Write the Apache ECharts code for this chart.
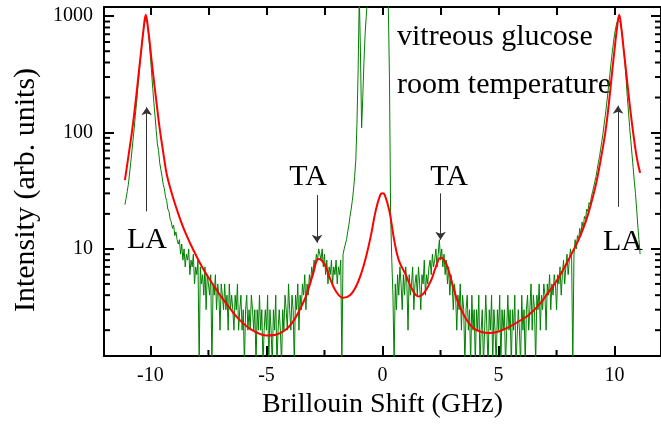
<!DOCTYPE html>
<html lang="en">
<head>
<meta charset="UTF-8">
<title>Brillouin spectrum - vitreous glucose</title>
<script src="https://cdn.jsdelivr.net/npm/echarts@6/dist/echarts.min.js"></script>
<style>
  html, body { margin: 0; padding: 0; background: #fff; }
  #main { width: 661px; height: 435px; }
</style>
</head>
<body>
<div id="main"></div>
<script>
// measured spectrum: one value per channel, channels every 0.05 GHz from -11.1 GHz
var dataStart = -11.1;
var dataStep = 0.05;
var measured = [
  24,27,31,36,44,55,68,86,108,140,
  178,235,300,390,500,620,760,880,940,900,
  760,600,450,330,240,180,138,104,80,70,
  55,48,42,36,33,28,26,22,21,18,
  17,15,16,13,14,12,11,12,9,11,
  8,10,7,9,8,10,6,8,7,9,
  5,7,6,8,1,7,5,6,4,7,
  3,6,5,4,6,1,5,4,6,3,
  5,4,2,5,4,3,5,3,4,2,
  5,3,4,3,2,4,3,5,2,3,
  4,2,3,1,3,4,2,3,2,4,
  3,2,3,1,3,2,4,2,3,1,
  2,3,2,4,1,3,2,1,3,2,
  4,1,2,3,2,1,3,2,4,3,
  2,5,3,2,4,3,1,4,3,5,
  2,4,3,5,4,6,3,5,4,6,
  5,7,6,8,7,9,8,10,9,8,
  10,7,9,6,8,5,7,6,8,5,
  7,6,8,5,7,6,8,1,9,10,
  11,12,14,16,19,22,26,32,42,58,
  120,350,1500,500,110,200,400,700,1000,1400,
  5000,5000,5000,5000,5000,5000,5000,5000,5000,5000,
  5000,5000,5000,5000,5000,5000,5000,5000,300,20,
  8,4,1,5,3,6,4,7,5,3,
  6,4,7,5,2,6,4,5,7,3,
  5,6,4,7,5,3,6,5,8,4,
  6,5,7,8,6,9,7,8,10,7,
  9,12,8,10,7,9,6,8,5,7,
  4,6,5,3,5,4,2,4,3,5,
  2,4,3,1,3,4,2,3,1,4,
  2,3,1,3,2,4,1,2,3,1,
  2,4,2,1,3,2,4,1,3,2,
  1,3,2,4,1,3,2,3,1,2,
  4,2,3,1,3,2,4,1,1,3,
  2,1,4,2,3,1,3,4,2,3,
  5,2,4,3,1,4,3,5,2,4,
  3,5,4,2,5,4,6,3,5,4,
  6,5,3,6,5,7,4,6,8,5,
  7,9,6,8,10,8,1,9,12,10,
  13,12,15,13,17,15,19,18,22,21,
  25,24,28,31,34,38,42,48,55,62,
  72,84,98,118,140,170,210,260,320,400,
  490,590,700,800,880,930,940,880,780,640,
  500,380,280,200,150,110,85,65,50,38,
  30,22,16,12,9
];

// fitted curve
var fitX = [-11.1,-10.95,-10.8,-10.65,-10.5,-10.4,-10.3,-10.2,-10.1,-10.0,-9.9,-9.75,-9.6,-9.45,-9.3,-9.1,-8.9,-8.6,-8.3,-7.9,
  -7.6,-7.2,-6.9,-6.5,-6.2,-5.8,-5.4,-5.0,-4.6,-4.2,-3.9,-3.6,-3.3,-3.0,-2.75,-2.5,-2.25,-2.0,-1.7,-1.4,
  -1.15,-0.9,-0.7,-0.5,-0.3,-0.1,0,0.1,0.3,0.5,0.7,1.0,1.3,1.55,1.8,2.1,2.3,2.5,2.7,2.9,
  3.1,3.3,3.6,3.9,4.2,4.6,5.0,5.4,5.9,6.3,6.8,7.1,7.5,7.85,8.2,8.45,8.75,9.0,9.2,9.4,
  9.6,9.75,9.9,10.0,10.1,10.2,10.3,10.4,10.5,10.65,10.8,10.95,11.1];
var fitY = [39,62,100,175,330,500,760,1030,780,520,340,190,108,68,44,31,23,15.5,11.3,7.8,
  6.1,4.6,3.75,2.95,2.5,2.12,1.9,1.8,1.83,2.0,2.3,2.9,3.9,6.0,8.2,7.4,5.5,4.3,3.8,4.0,
  4.7,6.3,8.7,13,21,29,30,29,21,12,8,6.0,4.4,3.9,4.2,5.4,7.0,8.4,7.8,6.0,
  4.3,3.3,2.5,2.1,1.95,1.89,1.95,2.1,2.4,2.7,3.4,4.1,5.3,7.0,9.5,12,17,25,36,58,
  100,175,340,520,780,1030,760,500,330,175,100,62,45];

// axis ticks
var xMajor = [-10, -5, 0, 5, 10];
var xMinor = [-7.5, -2.5, 2.5, 7.5];
var xTop = [-10, -7.5, -5, -2.5, 0, 2.5, 5, 7.5, 10];
var yMajor = [10, 100, 1000];
var yMinor = [2,3,4,5,6,7,8,9,20,30,40,50,60,70,80,90,200,300,400,500,600,700,800,900];

// arrows: position (GHz), tail and head (intensity)
var arrows = [
  { x: -10.16, from: 21, to: 165 },
  { x: -2.82, from: 29, to: 11.3 },
  { x: 2.5, from: 30, to: 12 },
  { x: 10.15, from: 23, to: 170 }
];

var serif = '"Liberation Serif", "Times New Roman", serif';

var measuredData = measured.map(function (v, i) {
  return [+(dataStart + i * dataStep).toFixed(2), v];
});
var fitData = fitX.map(function (x, i) { return [x, fitY[i]]; });

var myChart = echarts.init(document.getElementById('main'));

var frameLine = { show: true, onZero: false, lineStyle: { color: '#000', width: 2 } };

function annot(text, x, y, align) {
  return { type: 'text', x: x, y: y,
    style: { text: text, fill: '#000', font: '30px ' + serif, align: align, verticalAlign: 'middle' } };
}

var option = {
  animation: false,
  grid: { left: 104, right: -2, top: 7, bottom: 79, containLabel: false },
  xAxis: [
    {
      type: 'value', min: -12, max: 12, position: 'bottom',
      axisLine: frameLine,
      axisTick: { inside: true, length: 10, customValues: xMajor, lineStyle: { color: '#000', width: 2 } },
      axisLabel: { customValues: xMajor, color: '#000', fontFamily: serif, fontSize: 20, margin: 10 },
      splitLine: { show: false },
      name: 'Brillouin Shift (GHz)', nameLocation: 'middle', nameGap: 34,
      nameTextStyle: { color: '#000', fontFamily: serif, fontSize: 28 }
    },
    {
      type: 'value', min: -12, max: 12, position: 'top',
      axisLine: frameLine,
      axisTick: { inside: true, length: 8, customValues: xTop, lineStyle: { color: '#000', width: 2 } },
      axisLabel: { show: false },
      splitLine: { show: false }
    }
  ],
  yAxis: [
    {
      type: 'log', min: 1.2, max: 1200, position: 'left',
      axisLine: frameLine,
      axisTick: { inside: true, length: 10, customValues: yMajor, lineStyle: { color: '#000', width: 2 } },
      axisLabel: {
        customValues: yMajor, color: '#000', fontFamily: serif, fontSize: 20, margin: 11,
        formatter: function (v) { return String(v); }
      },
      splitLine: { show: false }
    },
    {
      type: 'log', min: 1.2, max: 1200, position: 'right',
      axisLine: frameLine,
      axisTick: { inside: true, length: 10, customValues: yMajor, lineStyle: { color: '#000', width: 2 } },
      axisLabel: { show: false },
      splitLine: { show: false }
    }
  ],
  graphic: [
    { type: 'text', x: 26, y: 190, rotation: Math.PI / 2,
      style: { text: 'Intensity (arb. units)', fill: '#000', font: '30px ' + serif, align: 'center', verticalAlign: 'middle' } },
    annot('vitreous glucose', 397, 37, 'left'),
    annot('room temperature', 397, 85, 'left'),
    annot('TA', 308, 177, 'center'),
    annot('TA', 449, 177, 'center'),
    annot('LA', 147, 240, 'center'),
    annot('LA', 623, 242, 'center')
  ],
  series: [
    {
      name: 'measured', type: 'line', data: measuredData,
      showSymbol: false, clip: true,
      lineStyle: { color: '#008000', width: 1 },
      z: 2
    },
    {
      name: 'fit', type: 'line', data: fitData,
      showSymbol: false, clip: true, smooth: 0.4,
      lineStyle: { color: '#ff0000', width: 2 },
      z: 3,
      markLine: {
        silent: true,
        symbol: ['none', 'arrow'],
        symbolSize: 8,
        label: { show: false },
        lineStyle: { color: '#333', width: 1, type: 'solid' },
        data: arrows.map(function (a) {
          return [{ coord: [a.x, a.from] }, { coord: [a.x, a.to] }];
        })
      }
    },
    {
      // minor ticks on bottom axis
      name: 'xMinorTicks', type: 'custom', silent: true,
      data: xMinor.map(function (v) { return [v, 10]; }),
      renderItem: function (params, api) {
        var cs = params.coordSys;
        var p = api.coord([api.value(0), api.value(1)]);
        var yb = cs.y + cs.height;
        return { type: 'line', shape: { x1: p[0], y1: yb, x2: p[0], y2: yb - 6 },
          style: { stroke: '#000', lineWidth: 2 } };
      },
      z: 4
    },
    {
      // minor ticks on both log axes
      name: 'yMinorTicks', type: 'custom', silent: true,
      data: yMinor.map(function (v) { return [0, v]; }),
      renderItem: function (params, api) {
        var cs = params.coordSys;
        var p = api.coord([api.value(0), api.value(1)]);
        var xl = cs.x, xr = cs.x + cs.width;
        return { type: 'group', children: [
          { type: 'line', shape: { x1: xl, y1: p[1], x2: xl + 6, y2: p[1] }, style: { stroke: '#000', lineWidth: 2 } },
          { type: 'line', shape: { x1: xr, y1: p[1], x2: xr - 6, y2: p[1] }, style: { stroke: '#000', lineWidth: 2 } }
        ] };
      },
      z: 4
    }
  ]
};

myChart.setOption(option);
</script>
</body>
</html>
